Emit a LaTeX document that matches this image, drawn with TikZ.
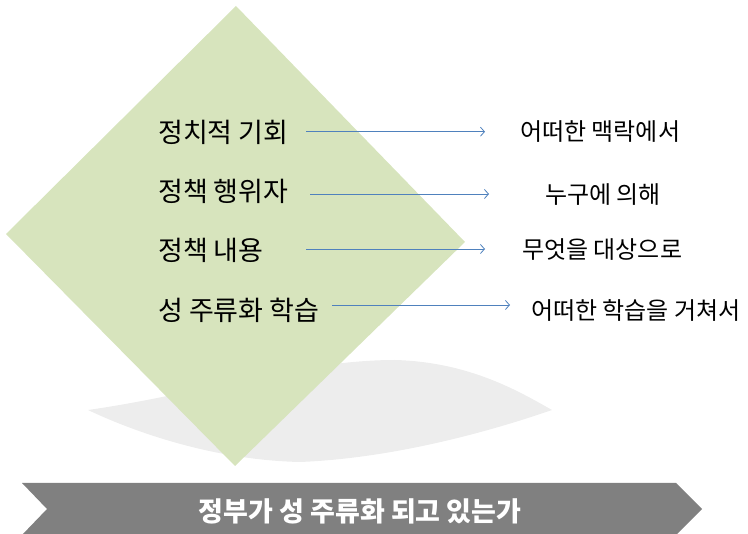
\documentclass[tikz,border=0pt]{standalone}
\usepackage{fontspec}
\setmainfont{Noto Sans CJK KR}
\usetikzlibrary{arrows.meta}
\definecolor{dgreen}{HTML}{D7E4BD}
\definecolor{abl}{HTML}{4F81BD}
\definecolor{bargray}{HTML}{808080}
\definecolor{shadowgray}{HTML}{EDEDED}
\begin{document}
\begin{tikzpicture}[x=1pt,y=-1pt,
  lab/.style={anchor=west, inner sep=0pt, font=\fontsize{27}{27}\selectfont},
  rlab/.style={anchor=west, inner sep=0pt, font=\fontsize{24}{24}\selectfont},
  conn/.style={draw=abl, line width=0.8pt, -{Straight Barb[length=4pt,width=9pt]}}]
\useasboundingbox (0,0) rectangle (748,534);
% shadow
\fill[shadowgray] (88,410) .. controls (200,394) and (300,360) .. (395,360)
  .. controls (470,362) and (520,392) .. (552,410)
  .. controls (500,428) and (400,458) .. (300,462)
  .. controls (210,460) and (130,430) .. (88,410) -- cycle;
% diamond
\fill[dgreen] (236,6) -- (465,242) -- (235,466) -- (6,234) -- cycle;
% left labels
\node[lab] (l1) at (158,132) {정치적 기회};
\node[lab] (l2) at (158,191) {정책 행위자};
\node[lab] (l3) at (158,250) {정책 내용};
\node[lab] (l4) at (158,310) {성 주류화 학습};
% right labels
\node[rlab] (r1) at (520,132) {어떠한 맥락에서};
\node[rlab] (r2) at (545,195) {누구에 의해};
\node[rlab] (r3) at (522,250) {무엇을 대상으로};
\node[rlab] (r4) at (531,310) {어떠한 학습을 거쳐서};
% connector ends
\coordinate (s1) at (306,131.7); \coordinate (e1) at (485,131.7);
\coordinate (s2) at (310,194);   \coordinate (e2) at (489,194);
\coordinate (s3) at (306,249);   \coordinate (e3) at (485,249);
\coordinate (s4) at (332,305);   \coordinate (e4) at (510,305);
\draw[conn] (s1) -- (e1);
\draw[conn] (s2) -- (e2);
\draw[conn] (s3) -- (e3);
\draw[conn] (s4) -- (e4);
% bottom bar
\fill[bargray] (22,483) -- (676,483) -- (702,509) -- (676,535) -- (22,535) -- (47,509) -- cycle;
\node[text=white, font=\fontsize{27}{27}\selectfont\bfseries, inner sep=0pt] (bar) at (360,511) {정부가 성 주류화 되고 있는가};
\end{tikzpicture}
\end{document}
